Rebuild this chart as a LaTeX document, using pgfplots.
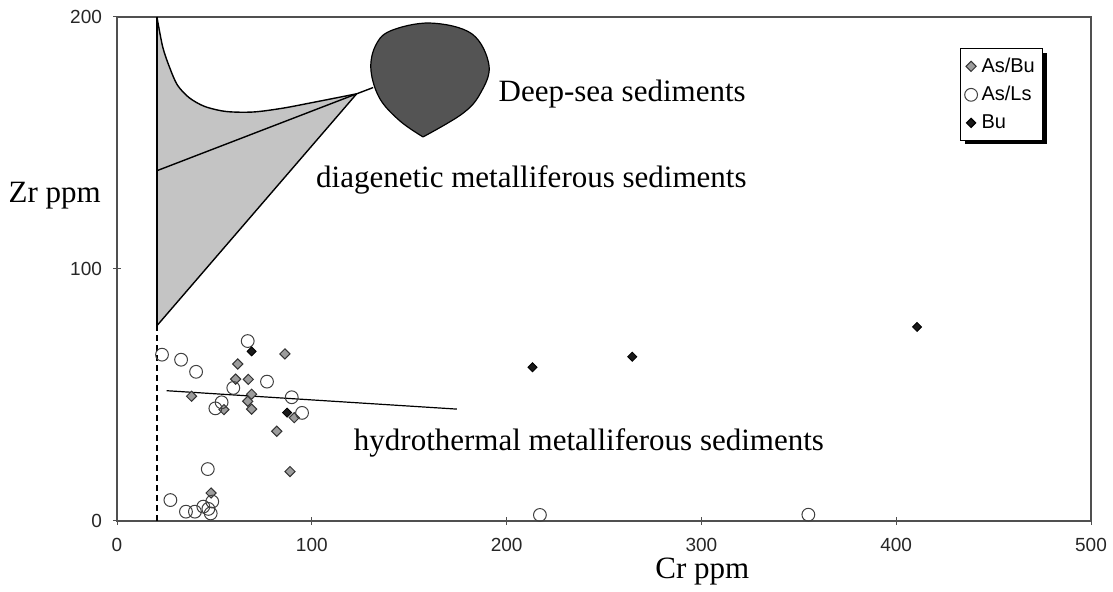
\documentclass[border=0pt]{standalone}
\usepackage{fontspec}
\setmainfont{Liberation Serif}
\newfontfamily\arialfont{Liberation Sans}
\usepackage{pgfplots}
\pgfplotsset{compat=1.18}
\usepgfplotslibrary{fillbetween}
\usetikzlibrary{shadows}

\definecolor{framegray}{HTML}{505050}
\definecolor{blobgray}{HTML}{545454}
\definecolor{fieldgray}{HTML}{C4C4C4}
\definecolor{diagray}{HTML}{9C9C9C}

\begin{document}
\begin{tikzpicture}
\begin{axis}[
  at={(58.5pt,35.5pt)}, anchor=south west,
  scale only axis, width=487pt, height=252pt,
  xmin=0, xmax=500, ymin=0, ymax=200,
  xtick={0,100,...,500}, ytick={0,100,200},
  xtick pos=bottom, ytick pos=left,
  tick align=center, major tick length=4pt,
  axis line style={framegray, line width=0.6pt},
  every tick/.style={framegray, line width=0.5pt},
  /pgf/number format/assume math mode=true,
  ticklabel style={font=\arialfont\fontsize{9.5}{11}\selectfont, text=black!85},
  xticklabel style={yshift=-3pt},
  yticklabel style={xshift=-2pt},
  xlabel={Cr ppm}, ylabel={Zr ppm},
  label style={font=\fontsize{15.5}{18}\selectfont},
  xlabel style={at={(axis description cs:0.601,0)}, anchor=base, yshift=-29pt},
  ylabel style={at={(axis description cs:-0.064,0.646)}, anchor=center, rotate=-90},
  clip=false,
  legend style={at={(axis cs:432.8,187.7)}, anchor=north west,
    draw=black, line width=0.6pt, fill=white,
    drop shadow={shadow xshift=2pt, shadow yshift=-2pt, fill=black, opacity=1},
    font=\arialfont\fontsize{10}{12}\selectfont,
    inner xsep=2pt, inner ysep=2.5pt, row sep=1.5pt},
  legend cell align=left,
  legend image code/.code={\draw[mark repeat=2,mark phase=2,#1] plot coordinates {(0pt,0pt) (3pt,0pt) (6pt,0pt)};},
]

% diagenetic field: shaded wedge between the upper curve and the lower boundary
\addplot[name path=upper, draw=none, smooth, forget plot] coordinates {
  (20.5,200) (23.5,188) (27,180) (31,173) (37,168) (45,164.5)
  (56,162.5) (70,162.3) (85,163.8) (100,166) (123,169.5)};
\addplot[name path=lower, draw=none, forget plot] coordinates {(20.5,77.5) (123,169.5)};
\addplot[fieldgray, forget plot] fill between[of=upper and lower];

% field boundaries
\addplot[black, line width=0.7pt, smooth, forget plot] coordinates {
  (20.5,200) (23.5,188) (27,180) (31,173) (37,168) (45,164.5)
  (56,162.5) (70,162.3) (85,163.8) (100,166) (123,169.5)};
\addplot[black, line width=0.7pt, forget plot] coordinates {(20.5,139) (123,169.5)};
\addplot[black, line width=0.7pt, forget plot] coordinates {(20.5,77.5) (123,169.5) (131.5,172)};
\addplot[black, line width=0.7pt, forget plot] coordinates {(20.5,77.5) (20.5,200)};
\addplot[black, line width=0.8pt, dash pattern=on 3pt off 2pt, forget plot] coordinates {(20.5,0) (20.5,77.5)};

% deep-sea sediment field
\addplot[fill=blobgray, draw=black, line width=0.6pt, smooth, tension=0.6, forget plot] coordinates {
  (157.1,152.4) (177.1,161.5) (186.3,169.4) (191.0,180.6) (182.2,193.3)
  (160.7,197.6) (140.1,194.4) (132.4,188.1) (130.4,178.6) (135.0,167.5)
  (145.3,158.7) (157.1,152.4)};

% trend of the hydrothermal samples
\addplot[black, line width=0.6pt, forget plot] coordinates {(25.5,51.7) (174.5,44.4)};

% As/Bu
\addplot[only marks, mark=square*, mark size=1.8pt,
  mark options={rotate=45, fill=diagray, draw=black!80, line width=0.5pt}] coordinates {
  (38.3,49.5) (86.2,66.3) (62.0,62.3) (60.9,56.3) (67.4,56.2) (69.1,50.3)
  (67.1,47.5) (69.1,44.4) (54.9,44.2) (91.0,41.0) (82.0,35.6) (88.8,19.6)
  (48.3,11.1)};
\addlegendentry{As/Bu}

% As/Ls
\addplot[only marks, mark=o, mark size=3.2pt,
  mark options={draw=black!75, line width=0.5pt}] coordinates {
  (23.1,66.0) (32.9,64.0) (40.6,59.2) (67.1,71.4) (77.0,55.3) (59.7,52.8)
  (53.7,47.1) (50.5,44.7) (89.7,49.1) (95.0,42.9) (46.6,20.6) (27.4,8.3)
  (35.4,3.7) (40.0,3.7) (44.3,5.7) (48.9,7.7) (46.9,4.8) (48.1,3.0)
  (217.1,2.4) (354.9,2.5)};
\addlegendentry{As/Ls}

% Bu
\addplot[only marks, mark=square*, mark size=1.6pt,
  mark options={rotate=45, fill=black!90, draw=black}] coordinates {
  (69.1,67.3) (87.3,43.0) (213.3,61.0) (264.5,65.2) (410.7,77.0)};
\addlegendentry{Bu}

% field names
\node[anchor=base west, font=\fontsize{15.5}{18}\selectfont] at (axis cs:192.3,166.3) {Deep-sea sediments};
\node[anchor=base west, font=\fontsize{15.5}{18}\selectfont] at (axis cs:98.6,132.5) {diagenetic metalliferous sediments};
\node[anchor=base west, font=\fontsize{15.5}{18}\selectfont] at (axis cs:118,27.8) {hydrothermal metalliferous sediments};
\end{axis}
\pgfresetboundingbox
\useasboundingbox (0,0) rectangle (556.5pt,296pt);
\end{tikzpicture}
\end{document}
